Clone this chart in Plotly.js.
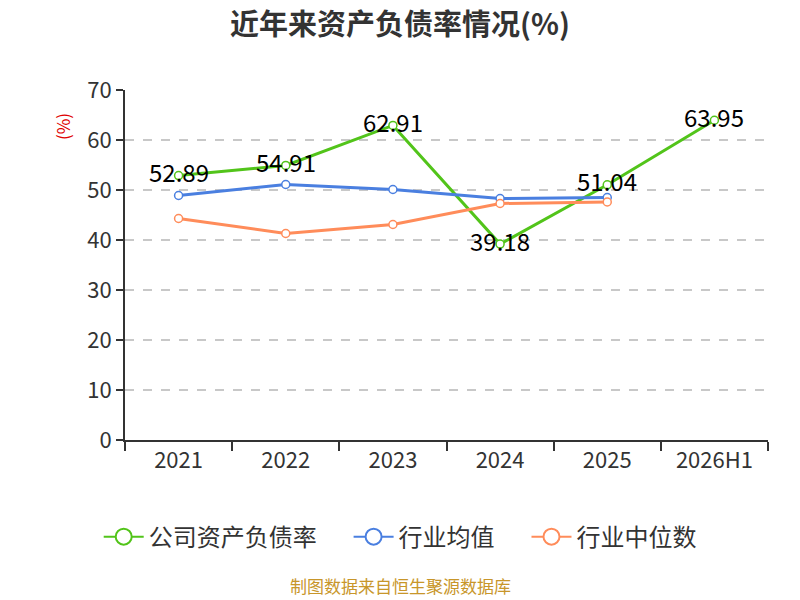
<!DOCTYPE html>
<html>
<head>
<meta charset="utf-8">
<script src="https://cdn.plot.ly/plotly-3.0.1.min.js"></script>
<style>
  body { margin: 0; background: #fff; }
  #chart { width: 800px; height: 600px; }
</style>
</head>
<body>
<div id="chart"></div>
<script>
const years = ["2021", "2022", "2023", "2024", "2025", "2026H1"];
const companyRate = [52.89, 54.91, 62.91, 39.18, 51.04, 63.95];
const industryAvg = [48.9, 51.1, 50.1, 48.3, 48.5];
const industryMedian = [44.3, 41.3, 43.1, 47.3, 47.6];

const seriesNames = ["公司资产负债率", "行业均值", "行业中位数"];
const seriesColors = ["#52c41a", "#4a7fe0", "#ff8c5a"];
const seriesValues = [companyRate, industryAvg, industryMedian];

const font = "'Noto Sans CJK SC', 'Noto Sans', sans-serif";
const pad = "\u00a0\u00a0\u00a0\u00a0\u00a0";

// real lines, kept out of the legend
const traces = seriesValues.map((vals, k) => ({
    x: years.slice(0, vals.length),
    y: vals,
    name: seriesNames[k],
    type: "scatter",
    mode: "lines+markers",
    line: { color: seriesColors[k], width: 3 },
    marker: { symbol: "circle", size: 8, color: "#fff", line: { color: seriesColors[k], width: 1.5 } },
    showlegend: false,
    hoverinfo: "skip"
}));

// legend entries with the bigger open circle
seriesNames.forEach((name, k) => {
    traces.push({
        x: [null], y: [null],
        name: k < seriesNames.length - 1 ? name + pad : name,
        type: "scatter",
        mode: "lines+markers",
        line: { color: seriesColors[k], width: 2 },
        marker: { symbol: "circle", size: 20, color: "#fff", line: { color: seriesColors[k], width: 2 } },
        hoverinfo: "skip"
    });
});

// value labels on the company series (x as category index)
const labels = companyRate.map((v, i) => ({
    x: i, y: v, text: v.toFixed(2),
    showarrow: false, yshift: 4,
    font: { family: font, size: 24, color: "#000" }
}));

const layout = {
    width: 800,
    height: 600,
    margin: { l: 125, r: 32, t: 90, b: 160 },
    paper_bgcolor: "#fff",
    plot_bgcolor: "#fff",
    font: { family: font },
    title: {
        text: "<b>近年来资产负债率情况(%)</b>",
        x: 0.5, xanchor: "center", y: 0.958, yanchor: "middle",
        font: { family: font, size: 29, color: "#333" }
    },
    xaxis: {
        type: "category",
        categoryarray: years,
        range: [-0.5, years.length - 0.5],
        tickson: "boundaries",
        ticks: "outside", ticklen: 9, tickcolor: "#333", tickwidth: 2,
        showline: true, linecolor: "#333", linewidth: 2,
        showgrid: false, zeroline: false,
        tickfont: { family: font, size: 22, color: "#333" },
        fixedrange: true
    },
    yaxis: {
        range: [0, 70], dtick: 10,
        ticks: "outside", ticklen: 7, tickcolor: "#333", tickwidth: 2,
        showline: true, linecolor: "#333", linewidth: 2,
        showgrid: true, gridcolor: "#c8c8c8", griddash: "dash", gridwidth: 1.2,
        zeroline: false,
        tickfont: { family: font, size: 22, color: "#333" },
        fixedrange: true
    },
    showlegend: true,
    legend: {
        orientation: "h",
        x: 0.428, xanchor: "center", xref: "paper",
        y: -0.213, yanchor: "top",
        font: { family: font, size: 24, color: "#333" },
        itemwidth: 40
    },
    annotations: labels.concat([
        {
            text: "(%)", xref: "paper", yref: "paper",
            x: -0.098, y: 0.897, xanchor: "center", yanchor: "middle",
            textangle: -90, showarrow: false,
            font: { family: font, size: 17, color: "#e00000" }
        },
        {
            text: "制图数据来自恒生聚源数据库", xref: "paper", yref: "paper",
            x: 0.428, y: -0.417, xanchor: "center", yanchor: "middle", showarrow: false,
            font: { family: font, size: 17, color: "#c8962a" }
        }
    ])
};

Plotly.newPlot("chart", traces, layout, { displayModeBar: false, staticPlot: true });
</script>
</body>
</html>
